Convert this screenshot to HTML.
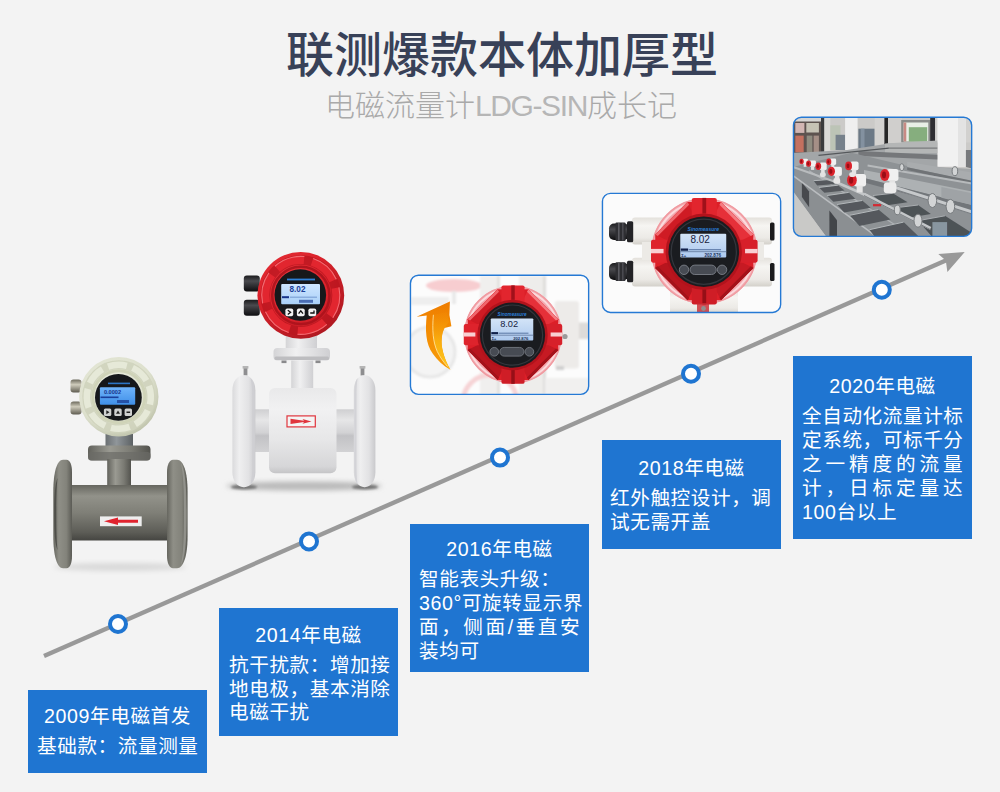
<!DOCTYPE html>
<html lang="zh-CN">
<head>
<meta charset="utf-8">
<title>电磁流量计LDG-SIN成长记</title>
<style>
html,body{margin:0;padding:0;background:#f3f3f3;}
body{width:1000px;height:792px;overflow:hidden;font-family:"Liberation Sans","Noto Sans CJK SC",sans-serif;}
#root{position:relative;width:1000px;height:792px;background:#f3f3f3;overflow:hidden;}
#gfx{position:absolute;left:0;top:0;}
h1{position:absolute;left:2px;top:20.5px;width:1000px;margin:0;text-align:center;font-size:48px;line-height:70px;font-weight:500;color:#384158;letter-spacing:0;white-space:nowrap;}
h2{position:absolute;left:1px;top:85.5px;width:1000px;margin:0;text-align:center;font-size:30px;line-height:40px;font-weight:300;color:#a9a9a9;white-space:nowrap;}
.box{position:absolute;background:#1f75d1;color:#fff;font-size:19.6px;letter-spacing:0.6px;line-height:24px;box-sizing:border-box;}
.box .t{position:absolute;left:0;width:100%;text-align:center;white-space:nowrap;height:24px;}
.box .l{position:absolute;left:9px;width:161.2px;height:24px;white-space:nowrap;text-align:left;}
.box .j{text-align:justify;text-align-last:justify;}
</style>
</head>
<body>
<div id="root">
<svg id="gfx" width="1000" height="792" viewBox="0 0 1000 792">
<defs>
<linearGradient id="p1pipe" x1="0" y1="0" x2="0" y2="1">
<stop offset="0" stop-color="#66665f"/><stop offset="0.2" stop-color="#92928a"/><stop offset="0.5" stop-color="#7f7f77"/><stop offset="0.85" stop-color="#5d5d57"/><stop offset="1" stop-color="#454541"/>
</linearGradient>
<linearGradient id="p1fl" x1="0" y1="0" x2="1" y2="0">
<stop offset="0" stop-color="#66665f"/><stop offset="0.3" stop-color="#8f8f87"/><stop offset="0.7" stop-color="#83837b"/><stop offset="1" stop-color="#5b5b55"/>
</linearGradient>
<linearGradient id="p1stem" x1="0" y1="0" x2="1" y2="0">
<stop offset="0" stop-color="#62625c"/><stop offset="0.35" stop-color="#9a9a92"/><stop offset="0.7" stop-color="#7a7a73"/><stop offset="1" stop-color="#53534e"/>
</linearGradient>
<linearGradient id="p1neck" x1="0" y1="0" x2="1" y2="0">
<stop offset="0" stop-color="#6a6f72"/><stop offset="0.4" stop-color="#90969a"/><stop offset="1" stop-color="#5c6164"/>
</linearGradient>
<radialGradient id="p1head" cx="0.42" cy="0.38" r="0.65">
<stop offset="0" stop-color="#eceee0"/><stop offset="0.75" stop-color="#dde0cd"/><stop offset="1" stop-color="#bfc3ab"/>
</radialGradient>
<linearGradient id="silver" x1="0" y1="0" x2="0" y2="1">
<stop offset="0" stop-color="#6e6b5e"/><stop offset="0.4" stop-color="#cfccbc"/><stop offset="1" stop-color="#5e5b50"/>
</linearGradient>
<linearGradient id="p1screen" x1="0" y1="0" x2="0" y2="1">
<stop offset="0" stop-color="#6fb4fb"/><stop offset="1" stop-color="#3f8fe8"/>
</linearGradient>
<filter id="blur1" x="-20%" y="-20%" width="140%" height="140%"><feGaussianBlur stdDeviation="1"/></filter>
<filter id="blur2" x="-20%" y="-50%" width="140%" height="200%"><feGaussianBlur stdDeviation="2.5"/></filter>
<filter id="blur05" x="-10%" y="-10%" width="120%" height="120%"><feGaussianBlur stdDeviation="0.5"/></filter>
<linearGradient id="p2body" x1="0" y1="0" x2="0" y2="1">
<stop offset="0" stop-color="#e9e9ea"/><stop offset="0.25" stop-color="#f1f1f2"/><stop offset="0.6" stop-color="#e7e7e8"/><stop offset="0.92" stop-color="#d6d6d8"/><stop offset="1" stop-color="#c4c4c6"/>
</linearGradient>
<linearGradient id="p2fl" x1="0" y1="0" x2="1" y2="0">
<stop offset="0" stop-color="#dadadc"/><stop offset="0.3" stop-color="#efeff0"/><stop offset="0.7" stop-color="#e2e2e4"/><stop offset="1" stop-color="#c9c9cc"/>
</linearGradient>
<linearGradient id="p2pipe" x1="0" y1="0" x2="0" y2="1">
<stop offset="0" stop-color="#cfcfd1"/><stop offset="0.25" stop-color="#e6e6e7"/><stop offset="0.55" stop-color="#d2d2d4"/><stop offset="0.62" stop-color="#c2c2c5"/><stop offset="1" stop-color="#d2d2d4"/>
</linearGradient>
<linearGradient id="p2stem" x1="0" y1="0" x2="1" y2="0">
<stop offset="0" stop-color="#d4d4d6"/><stop offset="0.4" stop-color="#f0f0f1"/><stop offset="1" stop-color="#cfcfd2"/>
</linearGradient>
<radialGradient id="redhead" cx="0.4" cy="0.35" r="0.7">
<stop offset="0" stop-color="#ee3a40"/><stop offset="0.6" stop-color="#db222b"/><stop offset="1" stop-color="#ab1820"/>
</radialGradient>
<linearGradient id="lcd" x1="0" y1="0" x2="0" y2="1">
<stop offset="0" stop-color="#cfe6ff"/><stop offset="1" stop-color="#a9d0f8"/>
</linearGradient>
<linearGradient id="gland" x1="0" y1="0" x2="0" y2="1">
<stop offset="0" stop-color="#1a1a1c"/><stop offset="0.35" stop-color="#4a4a4e"/><stop offset="1" stop-color="#0e0e10"/>
</linearGradient>
<linearGradient id="lcd2" x1="0" y1="0" x2="0" y2="1">
<stop offset="0" stop-color="#d3e4f7"/><stop offset="1" stop-color="#adc9ee"/>
</linearGradient>
<linearGradient id="orange" x1="0" y1="0" x2="0" y2="1">
<stop offset="0" stop-color="#ee7c00"/><stop offset="0.35" stop-color="#f38a02"/><stop offset="1" stop-color="#f79c08"/>
</linearGradient>
<linearGradient id="orange2" x1="0" y1="0" x2="0" y2="1">
<stop offset="0" stop-color="#f39006" stop-opacity="0.2"/><stop offset="0.5" stop-color="#f9ae10"/><stop offset="1" stop-color="#ffc81e"/>
</linearGradient>
<clipPath id="clip3"><rect x="410.45" y="275.25" width="178.2" height="119.1" rx="8"/></clipPath>
<clipPath id="clip4"><rect x="602.45" y="193.35" width="178.2" height="119.1" rx="8"/></clipPath>
<clipPath id="clip5"><rect x="793.45" y="117.25" width="178.2" height="119.1" rx="8"/></clipPath>
<linearGradient id="tube" x1="0" y1="0" x2="0" y2="1">
<stop offset="0" stop-color="#e4e1dc"/><stop offset="0.3" stop-color="#f6f5f2"/><stop offset="0.75" stop-color="#eceae6"/><stop offset="1" stop-color="#d3d0ca"/>
</linearGradient>
</defs>
<!--TIMELINE-->
<g id="timeline">
<line x1="44" y1="656" x2="948" y2="259.6" stroke="#999" stroke-width="4.4"/>
<polygon points="964.7,252.1 938.3,254 945.8,260.5 947.4,271.9" fill="#999"/>
<g fill="#fff" stroke="#1f75d1" stroke-width="4">
<circle cx="118" cy="624" r="8"/>
<circle cx="309" cy="541.5" r="8"/>
<circle cx="500" cy="457.6" r="8"/>
<circle cx="691" cy="373.7" r="8"/>
<circle cx="881.8" cy="289.8" r="8"/>
</g>
</g>
<g id="p1">
<ellipse cx="120" cy="567" rx="66" ry="4" fill="#d9d9d9" filter="url(#blur2)"/>
<rect x="105.5" y="434" width="27.5" height="18" fill="url(#p1neck)"/>
<rect x="88" y="445.5" width="62.5" height="15" rx="4" fill="url(#p1stem)"/>
<rect x="88" y="452" width="62.5" height="8.5" rx="3" fill="#6b6b66" opacity="0.7"/>
<rect x="107.2" y="459" width="23.8" height="30" fill="url(#p1stem)"/>
<rect x="70" y="485" width="102" height="55.5" fill="url(#p1pipe)"/>
<path d="M63,459.8 C57,459.8 53.3,472 53.3,492 L53.3,536 C53.3,556 57,568.2 63,568.2 L66.5,568.2 C70,568.2 72,563 72,556 L72,472 C72,465 70,459.8 66.5,459.8 Z" fill="url(#p1fl)"/>
<path d="M57.5,478 C55,484 54.2,496 54.2,514 C54.2,532 55,544 57.5,550 C56.5,540 56.3,530 56.3,514 C56.3,498 56.5,488 57.5,478Z" fill="#4f4f4a"/>
<path d="M177,459.8 C183.5,459.8 187.6,472 187.6,492 L187.6,536 C187.6,556 183.5,568.2 177,568.2 L173,568.2 C169.5,568.2 167,563 167,556 L167,472 C167,465 169.5,459.8 173,459.8 Z" fill="url(#p1fl)"/>
<path d="M181,463 C185,470 186.6,484 186.6,514 C186.6,544 185,558 181,565 C183.5,552 184,536 184,514 C184,492 183.5,476 181,463Z" fill="#9a9a93" opacity="0.8"/>
<rect x="100" y="516.4" width="41.7" height="9.8" fill="#eeeeee"/>
<polygon points="104,521.3 118,517.6 118,519.8 138,519.8 138,522.8 118,522.8 118,525 " fill="#e0232e"/>
<g>
<rect x="70.5" y="379.5" width="11" height="13" rx="3" fill="url(#silver)"/>
<rect x="70.5" y="401.5" width="11" height="13" rx="3" fill="url(#silver)"/>
</g>
<circle cx="118.8" cy="396.8" r="39.7" fill="url(#p1head)"/>
<circle cx="118.8" cy="396.8" r="32" fill="none" stroke="#cfd3bd" stroke-width="9" opacity="0.9"/>
<circle cx="118.8" cy="396.8" r="32" fill="none" stroke="#e6e9d8" stroke-width="6.5" stroke-dasharray="19 6.13" transform="rotate(-20 118.8 396.8)"/>
<circle cx="118.8" cy="396.8" r="26" fill="none" stroke="#cfd3b8" stroke-width="3"/>
<circle cx="118.4" cy="397.4" r="23.4" fill="#16181b"/>
<rect x="99.9" y="387.3" width="35.3" height="17.5" rx="1" fill="url(#p1screen)"/>
<rect x="100.5" y="396.5" width="18" height="1.6" fill="#1b3f9a"/>
<text x="112.5" y="393.6" font-family="Liberation Sans, sans-serif" font-size="5.6" font-weight="bold" fill="#17348a" text-anchor="middle">0.0002</text>
<rect x="117" y="400" width="12" height="3" fill="#17348a" opacity="0.7"/>
<rect x="108" y="382.6" width="22" height="1.6" fill="#2f80d8" opacity="0.9"/>
<g fill="#cfd1d0">
<rect x="103.9" y="408.5" width="7.4" height="7.4" rx="1.5"/>
<rect x="114.3" y="408.5" width="7.4" height="7.4" rx="1.5"/>
<rect x="124.6" y="408.5" width="7.4" height="7.4" rx="1.5"/>
</g>
<g fill="#222">
<polygon points="106.3,410.2 109.5,412.2 106.3,414.2"/>
<polygon points="116,413.8 118,410.5 120,413.8"/>
<rect x="126.5" y="411.5" width="3.6" height="1.5"/>
</g>
</g>
<g id="p2">
<ellipse cx="304" cy="486" rx="78" ry="4.5" fill="#b9b9b9" filter="url(#blur2)"/>
<ellipse cx="244" cy="487" rx="13" ry="2.5" fill="#777" filter="url(#blur1)"/>
<ellipse cx="365" cy="487" rx="13" ry="2.5" fill="#777" filter="url(#blur1)"/>
<rect x="243.6" y="366.5" width="3.8" height="9" fill="#8e8e90"/><rect x="242.6" y="366" width="5.8" height="2.6" fill="#b5b5b5"/>
<rect x="360.6" y="366.5" width="3.8" height="9" fill="#8e8e90"/><rect x="359.6" y="366" width="5.8" height="2.6" fill="#b5b5b5"/>
<rect x="250" y="409.3" width="106" height="42.7" fill="url(#p2pipe)"/>
<rect x="232.4" y="375.2" width="23" height="112" rx="11" ry="15" fill="url(#p2fl)"/>
<path d="M250.5,378 C253.5,381 254.6,386 254.6,394 L254.6,468 C254.6,476 253.5,481.5 250.5,484.5 C252,478 252.2,472 252.2,466 L252.2,396 C252.2,390 252,384 250.5,378Z" fill="#cfcfd3"/>
<rect x="353.8" y="375.2" width="21.6" height="112" rx="10.5" ry="15" fill="url(#p2fl)"/>
<path d="M357.6,378 C355,381 354.4,386 354.4,394 L354.4,468 C354.4,476 355,481.5 357.6,484.5 C356.6,478 356.5,472 356.5,466 L356.5,396 C356.5,390 356.6,384 357.6,378Z" fill="#d3d3d7"/>
<rect x="285.7" y="336" width="31.3" height="15" fill="url(#p2stem)"/>
<rect x="273.5" y="348" width="56.5" height="12.5" rx="4" fill="url(#p2stem)"/>
<rect x="274.5" y="356.5" width="54.5" height="3.6" rx="1.5" fill="#bdbdc0"/>
<rect x="281.5" y="360.5" width="5" height="2.6" fill="#8a8a8c"/><rect x="315.5" y="360.5" width="5" height="2.6" fill="#8a8a8c"/>
<rect x="291.2" y="360.5" width="22" height="32" fill="url(#p2stem)"/>
<rect x="269" y="388" width="67.5" height="85.3" rx="6" fill="url(#p2body)"/>
<rect x="287" y="415.9" width="28.3" height="11" fill="#f4f4f4" stroke="#e0353d" stroke-width="1.2"/>
<polygon points="290.5,418.8 304,420.8 302.5,419 311.5,421.4 302.5,423.8 304,422 290.5,424" fill="#e0353d"/>
<rect x="243.8" y="275.4" width="16" height="16" rx="3" fill="url(#gland)"/>
<rect x="243.8" y="299.7" width="16" height="16" rx="3" fill="url(#gland)"/>
<circle cx="300.8" cy="295.4" r="43.4" fill="url(#redhead)"/>
<circle cx="300.8" cy="295.4" r="35.5" fill="none" stroke="#b8161f" stroke-width="9.5" opacity="0.75"/>
<circle cx="300.8" cy="295.4" r="35.5" fill="none" stroke="#e2262f" stroke-width="8" stroke-dasharray="29 8.18" transform="rotate(-12 300.8 295.4)"/>
<circle cx="300.8" cy="295.4" r="39" fill="none" stroke="#f4777c" stroke-width="1.1" stroke-dasharray="31.86 8.98" transform="rotate(-12 300.8 295.4)" opacity="0.85"/>
<circle cx="300.8" cy="295.4" r="28.6" fill="none" stroke="#a9121b" stroke-width="2.6" opacity="0.85"/>
<circle cx="300.3" cy="295" r="25.8" fill="#17181b"/>
<rect x="281.2" y="284" width="38.8" height="20.2" rx="1" fill="url(#lcd)"/>
<text x="297.5" y="292" font-family="Liberation Sans, sans-serif" font-size="8.2" font-weight="bold" fill="#1c3f97" text-anchor="middle">8.02</text>
<rect x="282" y="296.2" width="7" height="2" fill="#17348a"/>
<rect x="290" y="296.6" width="27" height="1.2" fill="#7ea4d8"/>
<rect x="299" y="299.8" width="14" height="3" fill="#2a4c9c" opacity="0.75"/>
<rect x="287" y="278.6" width="28" height="1.8" fill="#2f7fd6"/>
<g fill="#f2f2f2">
<rect x="285.4" y="308.4" width="7.8" height="7.8" rx="1.8"/>
<rect x="296.9" y="308.4" width="7.8" height="7.8" rx="1.8"/>
<rect x="308.4" y="308.4" width="7.8" height="7.8" rx="1.8"/>
</g>
<g fill="none" stroke="#111" stroke-width="1.3">
<polyline points="287.8,310.2 290.6,312.3 287.8,314.4"/>
<polyline points="298.6,313.6 300.8,310.8 303,313.6"/>
<polyline points="310.2,313 314,313 314,310.5"/>
</g>
</g>
<g id="p3">
<rect x="410.45" y="275.25" width="178.2" height="119.1" rx="8" fill="#fbfbfb"/>
<g clip-path="url(#clip3)">
<rect x="409" y="274" width="182" height="122" fill="#fcfcfc"/>
<g filter="url(#blur1)">
<ellipse cx="454" cy="285.6" rx="28" ry="6.5" fill="#f7cdd0"/>
<rect x="452" y="291" width="4" height="13" fill="#e9e9e9"/>
<rect x="411" y="297" width="38" height="8" fill="#eeeeee"/>
<rect x="480" y="276" width="17" height="118" fill="#f0efee"/>
<rect x="497" y="276" width="3" height="118" fill="#e2e1df"/>
<rect x="519" y="276" width="24" height="118" fill="#eeedeb"/>
<rect x="543" y="276" width="3" height="118" fill="#dedddb"/>
<circle cx="430" cy="352" r="25" fill="#f4f4f4" stroke="#e7e7e7" stroke-width="3"/>
<rect x="554.6" y="301" width="24.4" height="67.5" rx="3" fill="#edebe9"/>
<rect x="579" y="322.5" width="11" height="16.5" fill="#dddbd9"/>
<rect x="556" y="366" width="8" height="4" fill="#cfcfcf"/>
<circle cx="490" cy="402" r="27" fill="none" stroke="#f6d3d5" stroke-width="5"/>
<rect x="545" y="378" width="44" height="16" fill="#f1f0ef"/>
</g>
<g transform="translate(513 334.6) scale(0.965)">
<circle cx="0" cy="0" r="50.5" fill="#f3a9af"/>
<circle cx="0" cy="0" r="50" fill="none" stroke="#f09aa0" stroke-width="1.2"/>
<circle cx="0" cy="0" r="47.6" fill="none" stroke="#fbdadd" stroke-width="2"/>
<polygon points="-16,-47 16,-47 47,-16 47,16 16,47 -16,47 -47,16 -47,-16" fill="#dc1f28"/>
<polygon points="-16,-47 -47,-16 -35,-10 -10,-35" fill="#cf1b24"/>
<polygon points="16,-47 47,-16 35,-10 10,-35" fill="#e63039"/>
<polygon points="-16,47 -47,16 -35,10 -10,35" fill="#b8151e"/>
<polygon points="16,47 47,16 35,10 10,35" fill="#c61a23"/>
<polygon points="-16,-47 -47,-16 -44.5,-14.5 -14.5,-44.5" fill="#f0666c"/>
<polygon points="16,-47 47,-16 44.5,-14.5 14.5,-44.5" fill="#f47c82"/>
<polygon points="16,47 47,16 44.5,14.5 14.5,44.5" fill="#a3121a"/>
<polygon points="-16,47 -47,16 -44.5,14.5 -14.5,44.5" fill="#a3121a"/>
<rect x="-12" y="-51" width="24" height="19" rx="2" fill="#e2252e"/>
<rect x="-12" y="32" width="24" height="19" rx="2" fill="#cf1d26"/>
<rect x="-51" y="-11" width="19" height="22" rx="2" fill="#de232c"/>
<rect x="32" y="-11" width="19" height="22" rx="2" fill="#d7202a"/>
<rect x="-1.8" y="-51" width="3.6" height="15" fill="#a0111a"/>
<rect x="-1.8" y="36" width="3.6" height="15" fill="#960f17"/>
<rect x="-51" y="-2.2" width="12" height="4.2" fill="#f9cfd2"/>
<rect x="39" y="-2.2" width="12" height="4.2" fill="#f9cfd2"/>
<circle cx="-0.5" cy="0.5" r="36.5" fill="#b2131c"/>
<circle cx="-0.5" cy="0.5" r="33.8" fill="#1a1c20"/>
<circle cx="-0.5" cy="0.5" r="31.2" fill="none" stroke="#33363c" stroke-width="1.2"/>
<rect x="-23" y="-16.8" width="44" height="22.8" rx="1" fill="url(#lcd2)"/>
<text x="-4" y="-7.6" font-family="Liberation Sans, sans-serif" font-size="9.6" fill="#18233f" text-anchor="middle">8.02</text>
<rect x="-22.5" y="-2.6" width="7" height="2.2" fill="#10204a"/>
<rect x="-15" y="-2" width="31" height="1.1" fill="#5e7ba8"/>
<rect x="-23" y="0.2" width="44" height="0.7" fill="#52698f"/>
<text x="16" y="5.2" font-family="Liberation Sans, sans-serif" font-size="4.4" font-weight="bold" fill="#22355c" text-anchor="end">202.876</text>
<text x="-22" y="5.2" font-family="Liberation Sans, sans-serif" font-size="4" font-weight="bold" fill="#22355c">Σ+</text>
<text x="-1" y="-19.4" font-family="Liberation Sans, sans-serif" font-size="5" font-style="italic" font-weight="bold" fill="#2b7fd8" text-anchor="middle" textLength="30" lengthAdjust="spacingAndGlyphs">Sinomeasure</text>
<g fill="#474b53" stroke="#777c84" stroke-width="0.9">
<circle cx="-19.4" cy="17.8" r="4.5"/>
<rect x="-13.6" y="13.3" width="25" height="9" rx="4.5"/>
<circle cx="17" cy="17.8" r="4.5"/>
</g>
</g>
<circle cx="565" cy="336.5" r="2.6" fill="#9a9a9a"/>
<path d="M449.9,301.6 L416.6,316.7 L426.7,315.6 C425.2,330 425.5,344 433,354 C437.5,360.5 443,365.5 450.4,369.7 C444,358 440.5,347 441.8,337.4 C442.3,333 443.2,330.5 444.5,328 L451.4,326.3 L449.4,315 Z" fill="url(#orange)"/>
<path d="M433.4,314.8 C432,330 433,342 437.3,351.6 C440,357 443,361.5 450.4,369.7 C444,358 440.5,347 441.8,337.4 C442.3,333 443.2,330.5 444.5,328 L449,322 L447,312 Z" fill="url(#orange2)"/>
<path d="M433.4,314.8 C432,330 433,342 437.3,351.6 C440,357 443,361.5 447.5,366.5" fill="none" stroke="#ffe9a8" stroke-width="0.9" opacity="0.9"/>
</g>
<rect x="410.45" y="275.25" width="178.2" height="119.1" rx="8" fill="none" stroke="#2579d4" stroke-width="1.4"/>
</g>
<g id="p4">
<rect x="602.45" y="193.35" width="178.2" height="119.1" rx="8" fill="#f9f9f9"/>
<g clip-path="url(#clip4)">
<rect x="601" y="192" width="182" height="122" fill="#fbfbfb"/>
<rect x="632" y="217.6" width="140" height="27" rx="3" fill="url(#tube)"/>
<rect x="632" y="257.8" width="140" height="28.7" rx="3" fill="url(#tube)"/>
<rect x="642" y="242" width="122" height="18" fill="#eceae6"/>
<rect x="770" y="222.5" width="4.5" height="18" rx="1.5" fill="#1b1b1d"/>
<rect x="770" y="263" width="4.5" height="18" rx="1.5" fill="#1b1b1d"/>
<rect x="609" y="223.5" width="20" height="16.5" rx="5" fill="url(#gland)"/>
<rect x="627" y="221.2" width="6.2" height="21" rx="1.5" fill="#232326"/>
<rect x="615.5" y="222.6" width="10" height="18.4" rx="1" fill="#2e2e32"/>
<rect x="609" y="263" width="20" height="17" rx="5" fill="url(#gland)"/>
<rect x="627" y="260.8" width="6.2" height="21.5" rx="1.5" fill="#232326"/>
<rect x="615.5" y="262.2" width="10" height="18.8" rx="1" fill="#2e2e32"/>
<rect x="618" y="223" width="1.6" height="17.5" fill="#5a5a60"/><rect x="622" y="223" width="1.6" height="17.5" fill="#4a4a50"/>
<rect x="618" y="262.8" width="1.6" height="17.8" fill="#5a5a60"/><rect x="622" y="262.8" width="1.6" height="17.8" fill="#4a4a50"/>
<rect x="670" y="290" width="68" height="24" fill="url(#tube)"/>
<g transform="translate(704.3 251.2) scale(1.045)">
<circle cx="0" cy="0" r="50.5" fill="#f3a9af"/>
<circle cx="0" cy="0" r="50" fill="none" stroke="#f09aa0" stroke-width="1.2"/>
<circle cx="0" cy="0" r="47.6" fill="none" stroke="#fbdadd" stroke-width="2"/>
<polygon points="-16,-47 16,-47 47,-16 47,16 16,47 -16,47 -47,16 -47,-16" fill="#dc1f28"/>
<polygon points="-16,-47 -47,-16 -35,-10 -10,-35" fill="#cf1b24"/>
<polygon points="16,-47 47,-16 35,-10 10,-35" fill="#e63039"/>
<polygon points="-16,47 -47,16 -35,10 -10,35" fill="#b8151e"/>
<polygon points="16,47 47,16 35,10 10,35" fill="#c61a23"/>
<polygon points="-16,-47 -47,-16 -44.5,-14.5 -14.5,-44.5" fill="#f0666c"/>
<polygon points="16,-47 47,-16 44.5,-14.5 14.5,-44.5" fill="#f47c82"/>
<polygon points="16,47 47,16 44.5,14.5 14.5,44.5" fill="#a3121a"/>
<polygon points="-16,47 -47,16 -44.5,14.5 -14.5,44.5" fill="#a3121a"/>
<rect x="-12" y="-51" width="24" height="19" rx="2" fill="#e2252e"/>
<rect x="-12" y="32" width="24" height="19" rx="2" fill="#cf1d26"/>
<rect x="-51" y="-11" width="19" height="22" rx="2" fill="#de232c"/>
<rect x="32" y="-11" width="19" height="22" rx="2" fill="#d7202a"/>
<rect x="-1.8" y="-51" width="3.6" height="15" fill="#a0111a"/>
<rect x="-1.8" y="36" width="3.6" height="15" fill="#960f17"/>
<rect x="-51" y="-2.2" width="12" height="4.2" fill="#f9cfd2"/>
<rect x="39" y="-2.2" width="12" height="4.2" fill="#f9cfd2"/>
<circle cx="-0.5" cy="0.5" r="36.5" fill="#b2131c"/>
<circle cx="-0.5" cy="0.5" r="33.8" fill="#1a1c20"/>
<circle cx="-0.5" cy="0.5" r="31.2" fill="none" stroke="#33363c" stroke-width="1.2"/>
<rect x="-23" y="-16.8" width="44" height="22.8" rx="1" fill="url(#lcd2)"/>
<text x="-4" y="-7.6" font-family="Liberation Sans, sans-serif" font-size="9.6" fill="#18233f" text-anchor="middle">8.02</text>
<rect x="-22.5" y="-2.6" width="7" height="2.2" fill="#10204a"/>
<rect x="-15" y="-2" width="31" height="1.1" fill="#5e7ba8"/>
<rect x="-23" y="0.2" width="44" height="0.7" fill="#52698f"/>
<text x="16" y="5.2" font-family="Liberation Sans, sans-serif" font-size="4.4" font-weight="bold" fill="#22355c" text-anchor="end">202.876</text>
<text x="-22" y="5.2" font-family="Liberation Sans, sans-serif" font-size="4" font-weight="bold" fill="#22355c">Σ+</text>
<text x="-1" y="-19.4" font-family="Liberation Sans, sans-serif" font-size="5" font-style="italic" font-weight="bold" fill="#2b7fd8" text-anchor="middle" textLength="30" lengthAdjust="spacingAndGlyphs">Sinomeasure</text>
<g fill="#474b53" stroke="#777c84" stroke-width="0.9">
<circle cx="-19.4" cy="17.8" r="4.5"/>
<rect x="-13.6" y="13.3" width="25" height="9" rx="4.5"/>
<circle cx="17" cy="17.8" r="4.5"/>
</g>
</g>
<rect x="697" y="303" width="12" height="9" fill="#c9272f" opacity="0.8"/>
<circle cx="703.5" cy="308.5" r="2.4" fill="#8f8f8f"/>
</g>
<rect x="602.45" y="193.35" width="178.2" height="119.1" rx="8" fill="none" stroke="#2579d4" stroke-width="1.4"/>
</g>
<g id="p5">
<g clip-path="url(#clip5)">
<g filter="url(#blur05)">
<rect x="792" y="116" width="182" height="122" fill="#cbcac8"/>
<rect x="791.9" y="115.8" width="29.5" height="37.1" fill="#5d5350" />
<rect x="795.3" y="123.0" width="9.1" height="9.9" fill="#d2b6b3" />
<rect x="806.3" y="123.0" width="12.6" height="9.5" fill="#c6c3b5" />
<rect x="795.3" y="135.6" width="8.4" height="16.7" fill="#c46f5e" />
<rect x="806.7" y="135.6" width="5.7" height="16.7" fill="#8f8c80" />
<rect x="813.6" y="135.6" width="5.3" height="16.7" fill="#a58f86" />
<rect x="791.9" y="115.8" width="29.5" height="5.7" fill="#d6d5d3" />
<rect x="821.0" y="115.8" width="3.4" height="40.9" fill="#3b3b3c" />
<rect x="824.4" y="115.8" width="5.9" height="40.9" fill="#dbdad8" />
<rect x="830.3" y="125.3" width="10.2" height="24.7" fill="#bcc4b6" />
<rect x="835.6" y="134.8" width="9.9" height="15.2" fill="#76818b" />
<rect x="845.1" y="115.8" width="12.5" height="40.3" fill="#efefef" />
<rect x="858.4" y="128.7" width="16.3" height="22.3" fill="#6c7986" />
<rect x="860.7" y="128.7" width="3.8" height="22.3" fill="#8391a0" />
<rect x="874.7" y="115.8" width="9.7" height="34.2" fill="#d4d3d1" />
<rect x="884.4" y="115.8" width="3.6" height="28.5" fill="#262628" />
<rect x="888.0" y="115.8" width="14.1" height="28.5" fill="#d0cfcd" />
<rect x="901.2" y="120.0" width="29.4" height="22.4" fill="#8a8c8a" />
<rect x="903.6" y="122.5" width="24.7" height="19.0" fill="#e8efe6" />
<rect x="908.8" y="127.2" width="18.4" height="14.3" fill="#86ae7e" />
<rect x="903.6" y="122.5" width="2.7" height="19.0" fill="#c88a84" />
<rect x="930.2" y="115.8" width="5.0" height="26.6" fill="#2d2e30" />
<rect x="935.2" y="115.8" width="39.1" height="26.6" fill="#d2d1cf" />
<rect x="937.4" y="115.8" width="28.5" height="50.9" fill="#f1f1f1" />
<rect x="958.0" y="115.8" width="7.9" height="50.9" fill="#e3e3e3" />
<polygon points="791.9,152.9 847.0,150.0 888.8,143.4 937.3,142.4 937.3,167.1 974.3,169.0 974.3,191.8 791.9,191.8" fill="#a3a6a8" />
<polygon points="885.0,143.4 937.3,140.5 937.3,152.9 885.0,152.9" fill="#b4b6b6" />
<polygon points="858.4,151.0 937.3,154.8 937.3,159.5 858.4,156.1" fill="#74777a" />
<polygon points="965.9,150.0 974.3,150.0 974.3,169.0 965.9,167.1" fill="#77797b" />
<line x1="818.5" y1="155.3" x2="888.8" y2="148.1" stroke="#55585b" stroke-width="1.2" />
<line x1="888.8" y1="148.1" x2="937.3" y2="148.1" stroke="#6a6d70" stroke-width="1" />
<polygon points="792.0,167.2 851.4,152.8 972.0,181.6 972.0,239.2 876.6,239.2 792.0,174.4" fill="#8e9295" />
<polygon points="864.0,169.9 972.0,191.5 972.0,205.0 864.0,178.0" fill="#adb1b3" />
<polygon points="864.0,178.0 972.0,205.0 972.0,211.3 864.0,182.5" fill="#72767a" />
<polygon points="907.2,161.8 972.0,172.6 972.0,180.7 907.2,167.2" fill="#a9acae" />
<polygon points="907.2,167.2 972.0,180.7 972.0,184.3 907.2,169.9" fill="#6f7376" />
<polygon points="941.4,187.0 972.0,193.3 972.0,205.0 941.4,197.8" fill="#9fa3a6" />
<polygon points="792.0,175.3 792.0,190.6 828.0,239.2 880.2,239.2" fill="#8b8f92" />
<polygon points="792.0,189.7 792.0,239.2 828.0,239.2" fill="#c9c9c7" />
<polygon points="801.9,182.5 809.1,191.5 809.1,207.2 801.9,196.9" fill="#474a4e" />
<polygon points="829.4,210.4 837.0,220.3 837.0,239.2 829.4,239.2" fill="#42454a" />
<line x1="792.0" y1="174.8" x2="878.4" y2="237.8" stroke="#b9bcbf" stroke-width="1.6" />
<line x1="809.1" y1="170.8" x2="918.0" y2="239.2" stroke="#aeb2b5" stroke-width="1.2" />
<polygon points="813.6,180.7 830.7,179.4 835.6,184.1 817.2,185.6" fill="#54595d" />
<line x1="813.6" y1="180.7" x2="830.7" y2="179.4" stroke="#b4b8bb" stroke-width="1" />
<polygon points="819.0,187.4 837.9,185.2 844.6,190.6 824.4,192.8" fill="#54595d" />
<line x1="819.0" y1="187.4" x2="837.9" y2="185.2" stroke="#b4b8bb" stroke-width="1" />
<polygon points="827.1,195.5 848.7,192.4 855.4,198.7 833.4,201.8" fill="#54595d" />
<line x1="827.1" y1="195.5" x2="848.7" y2="192.4" stroke="#b4b8bb" stroke-width="1" />
<polygon points="837.0,204.5 862.2,200.5 870.7,207.7 844.2,212.6" fill="#54595d" />
<line x1="837.0" y1="204.5" x2="862.2" y2="200.5" stroke="#b4b8bb" stroke-width="1" />
<polygon points="849.6,215.3 878.4,209.5 890.5,219.4 859.5,226.1" fill="#54595d" />
<line x1="849.6" y1="215.3" x2="878.4" y2="209.5" stroke="#b4b8bb" stroke-width="1" />
<polygon points="869.4,229.7 903.6,222.1 921.6,239.2 876.6,239.2" fill="#54595d" />
<line x1="869.4" y1="229.7" x2="903.6" y2="222.1" stroke="#b4b8bb" stroke-width="1" />
<polygon points="873.0,195.5 892.8,193.3 907.6,202.3 885.6,205.4" fill="#4e5357" />
<line x1="873.0" y1="195.5" x2="892.8" y2="193.3" stroke="#a9adb0" stroke-width="1" />
<polygon points="892.8,208.1 918.0,205.0 930.9,214.0 907.2,218.0" fill="#4e5357" />
<line x1="892.8" y1="208.1" x2="918.0" y2="205.0" stroke="#a9adb0" stroke-width="1" />
<polygon points="918.0,220.7 945.0,215.8 972.0,232.9 972.0,239.2 934.2,239.2" fill="#4e5357" />
<line x1="918.0" y1="220.7" x2="945.0" y2="215.8" stroke="#a9adb0" stroke-width="1" />
<line x1="793.8" y1="167.2" x2="837.0" y2="182.5" stroke="#b9bcbe" stroke-width="2" />
<line x1="837.0" y1="182.5" x2="867.6" y2="196.0" stroke="#c4c7c9" stroke-width="2.6" />
<line x1="864.0" y1="194.2" x2="930.6" y2="228.4" stroke="#c4c7c9" stroke-width="3.2" />
<line x1="864.0" y1="195.5" x2="930.6" y2="229.7" stroke="#7c8084" stroke-width="1" />
<line x1="892.8" y1="187.0" x2="972.0" y2="212.2" stroke="#c6c9cb" stroke-width="3.8" />
<line x1="892.8" y1="188.8" x2="972.0" y2="214.0" stroke="#7a7e82" stroke-width="1.1" />
<line x1="867.6" y1="165.4" x2="972.0" y2="183.4" stroke="#b7babc" stroke-width="2" />
<ellipse cx="918.0" cy="220.7" rx="4.0" ry="6.5" fill="#d2d4d5" stroke="#777b7e" stroke-width="1"/>
<ellipse cx="897.3" cy="209.9" rx="3.0" ry="4.8" fill="#d2d4d5" stroke="#777b7e" stroke-width="1"/>
<ellipse cx="932.4" cy="200.5" rx="4.3" ry="7" fill="#d2d4d5" stroke="#777b7e" stroke-width="1"/>
<ellipse cx="950.4" cy="206.4" rx="4.3" ry="7" fill="#d2d4d5" stroke="#777b7e" stroke-width="1"/>
<ellipse cx="954.9" cy="171.2" rx="2.8" ry="4.5" fill="#d2d4d5" stroke="#777b7e" stroke-width="1"/>
<ellipse cx="901.8" cy="167.2" rx="2.2" ry="3.5" fill="#d2d4d5" stroke="#777b7e" stroke-width="1"/>
<rect x="932.4" y="222.1" width="14.7" height="17.1" fill="#8896a0" />
<rect x="873.0" y="204.1" width="8.1" height="2.2" fill="#d42a30" />
<g transform="translate(802.8 161.4) scale(0.6)"><rect x="-0.5" y="-4.6" width="9" height="9.2" rx="2" fill="#f0f0f0"/><ellipse cx="-2" cy="0" rx="3.6" ry="4.6" fill="#dc232c"/><ellipse cx="-2.6" cy="0" rx="1.6" ry="2.6" fill="#9b1119"/><rect x="1.5" y="4" width="4.5" height="5" fill="#e4e4e4"/></g>
<g transform="translate(810.0 163.6) scale(0.7)"><rect x="-0.5" y="-4.6" width="9" height="9.2" rx="2" fill="#f0f0f0"/><ellipse cx="-2" cy="0" rx="3.6" ry="4.6" fill="#dc232c"/><ellipse cx="-2.6" cy="0" rx="1.6" ry="2.6" fill="#9b1119"/><rect x="1.5" y="4" width="4.5" height="5" fill="#e4e4e4"/></g>
<g transform="translate(819.9 166.3) scale(0.8)"><rect x="-0.5" y="-4.6" width="9" height="9.2" rx="2" fill="#f0f0f0"/><ellipse cx="-2" cy="0" rx="3.6" ry="4.6" fill="#dc232c"/><ellipse cx="-2.6" cy="0" rx="1.6" ry="2.6" fill="#9b1119"/><rect x="1.5" y="4" width="4.5" height="5" fill="#e4e4e4"/></g>
<g transform="translate(830.2 161.8) scale(0.7)"><rect x="-0.5" y="-4.6" width="9" height="9.2" rx="2" fill="#f0f0f0"/><ellipse cx="-2" cy="0" rx="3.6" ry="4.6" fill="#dc232c"/><ellipse cx="-2.6" cy="0" rx="1.6" ry="2.6" fill="#9b1119"/><rect x="1.5" y="4" width="4.5" height="5" fill="#e4e4e4"/></g>
<g transform="translate(833.4 171.3) scale(1.0)"><rect x="-0.5" y="-4.6" width="9" height="9.2" rx="2" fill="#f0f0f0"/><ellipse cx="-2" cy="0" rx="3.6" ry="4.6" fill="#dc232c"/><ellipse cx="-2.6" cy="0" rx="1.6" ry="2.6" fill="#9b1119"/><rect x="1.5" y="4" width="4.5" height="5" fill="#e4e4e4"/></g>
<g transform="translate(850.5 165.9) scale(0.95)"><rect x="-0.5" y="-4.6" width="9" height="9.2" rx="2" fill="#f0f0f0"/><ellipse cx="-2" cy="0" rx="3.6" ry="4.6" fill="#dc232c"/><ellipse cx="-2.6" cy="0" rx="1.6" ry="2.6" fill="#9b1119"/><rect x="1.5" y="4" width="4.5" height="5" fill="#e4e4e4"/></g>
<g transform="translate(854.6 180.2) scale(1.35)"><rect x="-0.5" y="-4.6" width="9" height="9.2" rx="2" fill="#f0f0f0"/><ellipse cx="-2" cy="0" rx="3.6" ry="4.6" fill="#dc232c"/><ellipse cx="-2.6" cy="0" rx="1.6" ry="2.6" fill="#9b1119"/><rect x="1.5" y="4" width="4.5" height="5" fill="#e4e4e4"/></g>
<g transform="translate(887.4 174.9) scale(1.3)"><rect x="-0.5" y="-4.6" width="9" height="9.2" rx="2" fill="#f0f0f0"/><ellipse cx="-2" cy="0" rx="3.6" ry="4.6" fill="#dc232c"/><ellipse cx="-2.6" cy="0" rx="1.6" ry="2.6" fill="#9b1119"/><rect x="1.5" y="4" width="4.5" height="5" fill="#e4e4e4"/></g>
<rect x="883.8" y="182.5" width="12.6" height="10.8" fill="#ececec" rx="3"/>
<rect x="833.4" y="178.0" width="6.8" height="5.8" fill="#e6e6e6" rx="2"/>
<rect x="849.2" y="172.2" width="6.2" height="4.9" fill="#e6e6e6" rx="2"/>
<rect x="819.9" y="172.2" width="5.9" height="4.9" fill="#e2e2e2" rx="2"/>
</g>
</g>
<rect x="793.45" y="117.25" width="178.2" height="119.1" rx="8" fill="none" stroke="#2579d4" stroke-width="1.4"/>
</g>
</svg>
<h1>联测爆款本体加厚型</h1>
<h2>电磁流量计<span style="letter-spacing:-1.4px;color:#b6b6b6;">LDG-SIN</span>成长记</h2>

<div class="box" style="left:28px;top:690px;width:179px;height:82.5px;">
<div class="t" style="top:13.5px;">2009年电磁首发</div>
<div class="l" style="top:43.5px;">基础款：流量测量</div>
</div>

<div class="box" style="left:219px;top:608px;width:179px;height:128px;">
<div class="t" style="top:15px;">2014年电磁</div>
<div class="l" style="left:10px;top:44.5px;">抗干扰款：增加接</div>
<div class="l" style="left:10px;top:68.5px;">地电极，基本消除</div>
<div class="l" style="left:10px;top:92px;">电磁干扰</div>
</div>

<div class="box" style="left:410px;top:524px;width:179px;height:147.5px;">
<div class="t" style="top:13px;">2016年电磁</div>
<div class="l" style="top:42.5px;">智能表头升级：</div>
<div class="l" style="top:66.5px;">360°可旋转显示界</div>
<div class="l j" style="top:90.5px;">面，侧面/垂直安</div>
<div class="l" style="top:114.5px;">装均可</div>
</div>

<div class="box" style="left:602px;top:440px;width:179px;height:109px;">
<div class="t" style="top:16px;">2018年电磁</div>
<div class="l" style="left:8px;top:46px;">红外触控设计，调</div>
<div class="l" style="left:8px;top:70px;">试无需开盖</div>
</div>

<div class="box" style="left:793px;top:356px;width:179px;height:183px;">
<div class="t" style="top:18px;">2020年电磁</div>
<div class="l" style="top:48px;">全自动化流量计标</div>
<div class="l" style="top:72px;">定系统，可标千分</div>
<div class="l j" style="top:96px;">之一精度的流量</div>
<div class="l j" style="top:120px;">计，日标定量达</div>
<div class="l" style="top:144px;">100台以上</div>
</div>
</div>
</body>
</html>
